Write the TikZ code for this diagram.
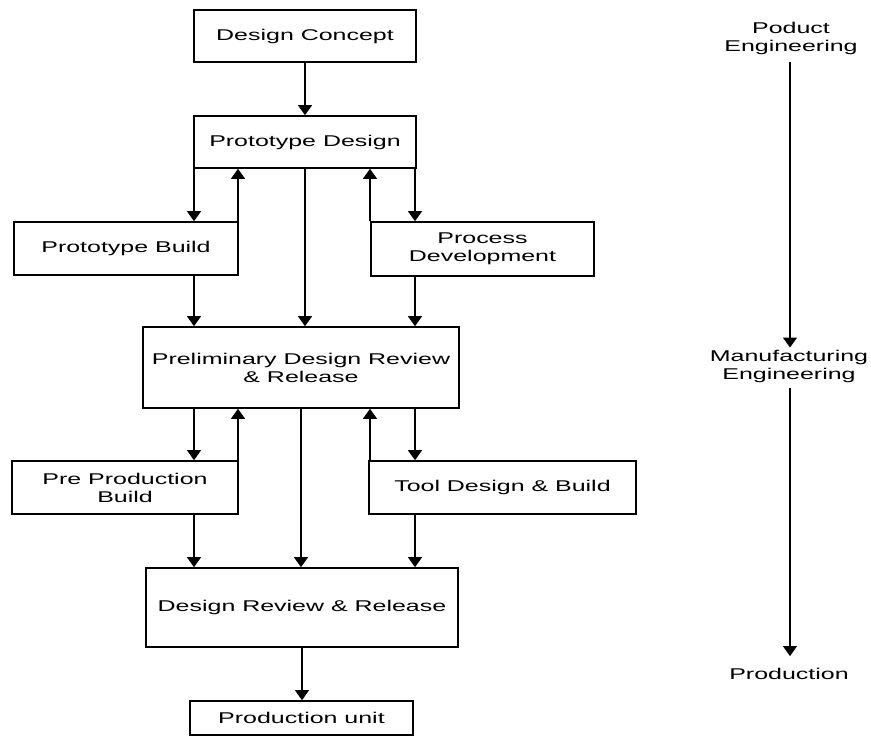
\documentclass[tikz,border=0pt]{standalone}
\usepackage{fontspec}
\setmainfont{Liberation Sans}[FakeStretch=1.6]
\usetikzlibrary{arrows.meta}
\begin{document}
\begin{tikzpicture}[x=1pt,y=-1pt,>={Triangle[width=14pt,length=10pt]},
    box node/.style={draw,line width=1.6pt,align=center,inner sep=2pt,font=\fontsize{15.6}{18}\selectfont},
    label node/.style={align=center,inner sep=2pt,font=\fontsize{15.6}{18}\selectfont},
    every edge/.style={draw,line width=1.1pt}]
                \useasboundingbox (0,0) rectangle (871,736);

                \node[box node,minimum width=222pt,minimum height=52pt] at (305,36) (concept) {Design Concept};
                \node[box node,minimum width=222pt,minimum height=52pt] at (305,142) (protodes) {Prototype Design};
                \node[box node,minimum width=224pt,minimum height=53pt] at (126,248.5) (protobuild) {Prototype Build};
                \node[box node,minimum width=223pt,minimum height=54pt] at (482.5,249) (procdev) {Process\\Development};
                \node[box node,minimum width=316pt,minimum height=81pt] at (301,367.5) (prelim) {Preliminary Design Review\\\& Release};
                \node[box node,minimum width=226pt,minimum height=53pt] at (125,487.5) (preprod) {Pre Production\\Build};
                \node[box node,minimum width=267pt,minimum height=53pt] at (502.5,487.5) (tooldes) {Tool Design \& Build};
                \node[box node,minimum width=312pt,minimum height=79pt] at (302,607.5) (review) {Design Review \& Release};
                \node[box node,minimum width=223pt,minimum height=34pt] at (301.5,718) (unit) {Production unit};

                \node[label node] at (791,38) (prodeng) {Poduct\\Engineering};
                \node[label node] at (789,366) (mfgeng) {Manufacturing\\Engineering};
                \node[label node] at (789,674) (production) {Production};

                \coordinate (colA) at (194,0);
                \coordinate (colB) at (238,0);
                \coordinate (colD) at (370,0);
                \coordinate (colE) at (415,0);

                \path[->] (concept) edge (protodes);
                \path[->] (protodes.south -| colA) edge (protobuild.north -| colA);
                \path[->] (protobuild.north -| colB) edge (protodes.south -| colB);
                \path[->] (protodes.south) edge (protodes.south |- prelim.north);
                \path[->] (procdev.north -| colD) edge (protodes.south -| colD);
                \path[->] (protodes.south -| colE) edge (procdev.north -| colE);
                \path[->] (protobuild.south -| colA) edge (prelim.north -| colA);
                \path[->] (procdev.south -| colE) edge (prelim.north -| colE);

                \path[->] (prelim.south -| colA) edge (preprod.north -| colA);
                \path[->] (preprod.north -| colB) edge (prelim.south -| colB);
                \path[->] (prelim.south) edge (prelim.south |- review.north);
                \path[->] (tooldes.north -| colD) edge (prelim.south -| colD);
                \path[->] (prelim.south -| colE) edge (tooldes.north -| colE);
                \path[->] (preprod.south -| colA) edge (review.north -| colA);
                \path[->] (tooldes.south -| colE) edge (review.north -| colE);
                \path[->] (review.south) edge (review.south |- unit.north);

                \path[->] (prodeng.south -| 790,0) edge[shorten <=6pt] (mfgeng.north -| 790,0);
                \path[->] (mfgeng.south -| 790,0) edge[shorten <=4pt,shorten >=10pt] (production.north -| 790,0);
            \end{tikzpicture}
\end{document}
